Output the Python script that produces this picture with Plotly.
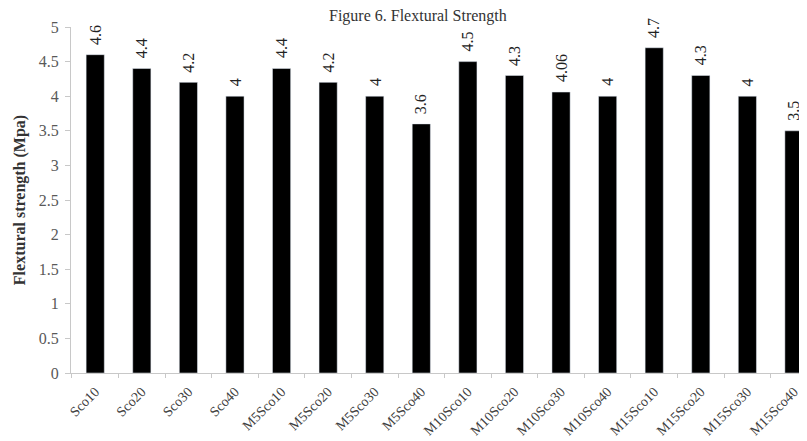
import plotly.graph_objects as go

categories = ["Sco10", "Sco20", "Sco30", "Sco40",
              "M5Sco10", "M5Sco20", "M5Sco30", "M5Sco40",
              "M10Sco10", "M10Sco20", "M10Sco30", "M10Sco40",
              "M15Sco10", "M15Sco20", "M15Sco30", "M15Sco40"]
values = [4.6, 4.4, 4.2, 4.0, 4.4, 4.2, 4.0, 3.6,
          4.5, 4.3, 4.06, 4.0, 4.7, 4.3, 4.0, 3.5]
value_labels = ["4.6", "4.4", "4.2", "4", "4.4", "4.2", "4", "3.6",
                "4.5", "4.3", "4.06", "4", "4.7", "4.3", "4", "3.5"]
y_ticks = [0, 0.5, 1, 1.5, 2, 2.5, 3, 3.5, 4, 4.5, 5]

serif = "Liberation Serif"

fig = go.Figure(go.Bar(
    x=categories, y=values,
    marker=dict(color="black"), width=0.39,
))

for c, v, t in zip(categories, values, value_labels):
    fig.add_annotation(x=c, y=v, text=t, textangle=-90, showarrow=False,
                       yanchor="bottom", yshift=8,
                       font=dict(family=serif, size=16, color="#222222"))

# the page body has an 8px margin, so the figure is 8px smaller than the window
fig.update_layout(
    width=799, height=433,
    margin=dict(l=63, r=0, t=19, b=68),
    plot_bgcolor="white", paper_bgcolor="white",
    showlegend=False,
    title=dict(text="Figure 6. Flextural Strength", x=0.513, xanchor="center",
               y=0.984, yanchor="middle",
               font=dict(family=serif, size=16, color="#333333")),
    xaxis=dict(
        range=[-0.52, 15.28], tickangle=-45, automargin=False,
        tickfont=dict(family=serif, size=14, color="#404040"),
        ticklabelstandoff=4,
        showline=True, linecolor="#c8c8c8", linewidth=1,
        ticks="outside", ticklen=4, tickcolor="#c8c8c8",
        tickson="boundaries", showgrid=False,
    ),
    yaxis=dict(
        range=[0, 5], tickvals=y_ticks, automargin=False,
        ticktext=[("%g" % v) for v in y_ticks],
        tickfont=dict(family=serif, size=16, color="#595959"),
        ticklabelstandoff=3,
        showline=True, linecolor="#c8c8c8", linewidth=1,
        ticks="outside", ticklen=5, tickcolor="#c8c8c8",
        showgrid=False, zeroline=False,
        title=dict(text="<b>Flextural strength (Mpa)</b>", standoff=9,
                   font=dict(family=serif, size=16, color="#333333")),
    ),
)

fig.write_html("out.html")
